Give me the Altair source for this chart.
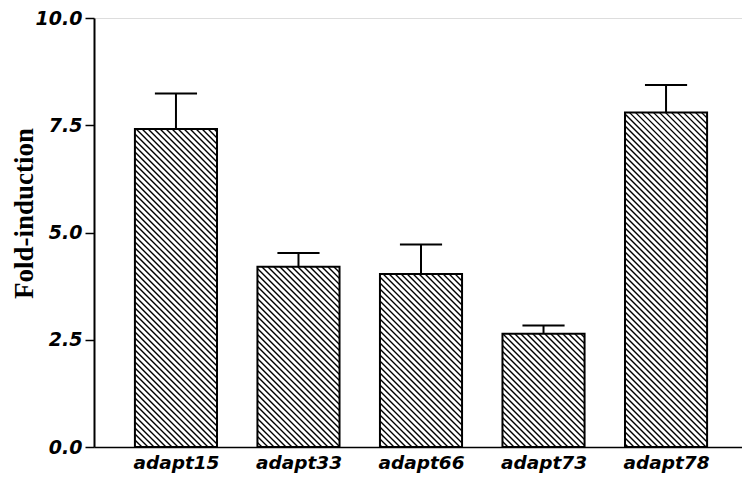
import json
import altair as alt
import pandas as pd

# ---- data ----
categories = ["adapt15", "adapt33", "adapt66", "adapt73", "adapt78"]
fold_induction = [7.41, 4.20, 4.03, 2.64, 7.80]
error_upper = [0.83, 0.32, 0.69, 0.19, 0.64]
y_ticks = [0.0, 2.5, 5.0, 7.5, 10.0]

# ---- layout constants ----
W, H = 648, 429
X_MIN, X_MAX = -0.669, 4.620
Y_MAX = 10.0
BAR_HALF = 0.335          # half bar width in category units
CAP_HALF = 0.172          # half error-cap width
HATCH_STEP = 6.0          # px between hatch lines (horizontal)

sx = W / (X_MAX - X_MIN)
sy = H / Y_MAX

bars = pd.DataFrame({
    "idx": list(range(len(categories))),
    "cat": categories,
    "value": fold_induction,
    "err": error_upper,
})
bars["x0"] = bars["idx"] - BAR_HALF
bars["x1"] = bars["idx"] + BAR_HALF
bars["top"] = bars["value"] + bars["err"]
bars["c0"] = bars["idx"] - CAP_HALF
bars["c1"] = bars["idx"] + CAP_HALF

# hatch segments (decoration) derived from the bar rectangles
segs = []
for _, r in bars.iterrows():
    L = (r["x0"] - X_MIN) * sx
    R = (r["x1"] - X_MIN) * sx
    Ht = r["value"] * sy
    k0 = int(L // HATCH_STEP)
    k1 = int((R + Ht) // HATCH_STEP) + 1
    for k in range(k0, k1 + 1):
        c = k * HATCH_STEP
        xa = max(L, c - Ht)
        xb = min(R, c)
        if xb - xa > 0.5:
            segs.append({
                "hx": xa / sx + X_MIN, "hy": (c - xa) / sy,
                "hx2": xb / sx + X_MIN, "hy2": (c - xb) / sy,
            })
hatch = pd.DataFrame(segs)

label_expr = json.dumps(categories) + "[round(datum.value)]"

xscale = alt.Scale(domain=[X_MIN, X_MAX], nice=False, zero=False)
yscale = alt.Scale(domain=[0, Y_MAX], nice=False)

x_axis = alt.Axis(
    values=list(range(len(categories))), labelExpr=label_expr, title=None,
    ticks=False, grid=False, domainColor="black", domainWidth=1.5,
    labelFont="DejaVu Sans", labelFontWeight="bold", labelFontStyle="italic",
    labelFontSize=18.5, labelColor="black", labelPadding=6,
)
y_axis = alt.Axis(
    values=y_ticks, format=".1f", title="Fold-induction", grid=False,
    domainColor="black", domainWidth=2, tickColor="black", tickWidth=1.5,
    tickSize=9, labelPadding=3,
    labelFont="DejaVu Sans", labelFontWeight="bold", labelFontStyle="italic",
    labelFontSize=19, labelColor="black",
    titleFont="Liberation Serif", titleFontWeight="bold", titleFontSize=27,
    titleColor="black", titleAngle=-90, titleX=-62, titleY=195,
    titleBaseline="alphabetic", titleAlign="center",
)

base = alt.Chart(bars)

fill = base.mark_rect(fill="white", stroke=None).encode(
    x=alt.X("x0:Q", scale=xscale, axis=x_axis),
    x2="x1:Q",
    y=alt.Y("value:Q", scale=yscale, axis=y_axis),
    y2=alt.datum(0),
)

hatch_layer = alt.Chart(hatch).mark_rule(color="black", strokeWidth=1.4).encode(
    x=alt.X("hx:Q", scale=xscale),
    y=alt.Y("hy:Q", scale=yscale),
    x2="hx2:Q",
    y2="hy2:Q",
)

outline = base.mark_rect(fillOpacity=0, stroke="black", strokeWidth=2).encode(
    x=alt.X("x0:Q", scale=xscale),
    x2="x1:Q",
    y=alt.Y("value:Q", scale=yscale),
    y2=alt.datum(0),
)

stem = base.mark_rule(color="black", strokeWidth=2).encode(
    x=alt.X("idx:Q", scale=xscale),
    y=alt.Y("value:Q", scale=yscale),
    y2="top:Q",
)

cap = base.mark_rule(color="black", strokeWidth=2).encode(
    x=alt.X("c0:Q", scale=xscale),
    x2="c1:Q",
    y=alt.Y("top:Q", scale=yscale),
)

chart = alt.layer(fill, hatch_layer, outline, stem, cap).properties(
    width=W, height=H,
    autosize=alt.AutoSizeParams(type="none"),
    padding={"left": 86, "top": 10, "right": 0, "bottom": 27},
).configure_view(stroke=None).configure(background="white")

chart.save("out.html", embed_options={"renderer": "svg", "actions": False})
